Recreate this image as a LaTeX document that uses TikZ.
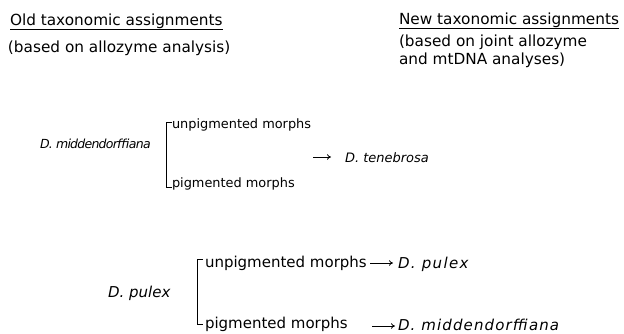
\documentclass[tikz,border=0pt]{standalone}
\usepackage{fontspec}
\setmainfont{DejaVu Sans}
\newfontfamily\spacedA[LetterSpace=9]{DejaVu Sans}
\newfontfamily\spacedB[LetterSpace=7.5]{DejaVu Sans}
\newfontfamily\tightA[LetterSpace=-6]{DejaVu Sans}
\usetikzlibrary{arrows.meta}
\begin{document}
\begin{tikzpicture}[x=1pt,y=-1pt,
  lbl/.style={anchor=base west,inner sep=0pt,outer sep=0pt},
  head/.style={lbl,font=\fontsize{15.3}{18}\selectfont},
  gone/.style={lbl,font=\fontsize{12.9}{15}\selectfont},
  gtwo/.style={lbl,font=\fontsize{15}{18}\selectfont},
  brk/.style={line width=0.9pt},
  uline/.style={line width=0.8pt},
  arr/.style={line width=0.8pt,-{To[length=4pt,width=5.5pt]}}]
\useasboundingbox (0,0) rectangle (624,334);
% headings
\node[head] (h1) at (10,26) {Old taxonomic assignments};
\node[head] (h1b) at (8,53) {(based on allozyme analysis)};
\node[head] (h2) at (399,25) {New taxonomic assignments};
\node[head] (h2b) at (399,47) {(based on joint allozyme};
\node[head] (h2c) at (399,65) {and mtDNA analyses)};
\draw[uline] ([yshift=-3.5pt]h1.base west) -- ([yshift=-3.5pt]h1.base east);
\draw[uline] ([yshift=-3.5pt]h2.base west) -- ([yshift=-3.5pt]h2.base east);
% group 1
\node[lbl,font=\tightA\fontsize{12.5}{15}\selectfont\itshape] (m1) at (40,149) {D. middendorffiana};
\node[gone] (u1) at (172,129) {unpigmented morphs};
\node[gone] (p1) at (172,187) {pigmented morphs};
\node[lbl,font=\fontsize{13}{15}\selectfont\itshape] (t1) at (345,163) {D. tenebrosa};
\draw[brk] (172,122) -- (166,122) -- (166,187) -- (172,187);
\coordinate (a1s) at (313,157);
\coordinate (a1e) at (331,157);
\draw[arr] (a1s) -- (a1e);
% group 2
\node[lbl,font=\fontsize{15}{18}\selectfont\itshape] (d2) at (108,297) {D. pulex};
\node[gtwo] (u2) at (205,267) {unpigmented morphs};
\node[gtwo] (p2) at (205,328) {pigmented morphs};
\node[lbl,font=\spacedA\fontsize{15}{18}\selectfont\itshape] (r1) at (398,268) {D. pulex};
\node[lbl,font=\spacedB\fontsize{15}{18}\selectfont\itshape] (r2) at (398,330) {D. middendorffiana};
\draw[brk] (203,259) -- (197,259) -- (197,324) -- (203,324);
\coordinate (a2s) at (370,263);
\coordinate (a2e) at (393,263);
\coordinate (a3s) at (372,326);
\coordinate (a3e) at (395,326);
\draw[arr] (a2s) -- (a2e);
\draw[arr] (a3s) -- (a3e);
\end{tikzpicture}
\end{document}
